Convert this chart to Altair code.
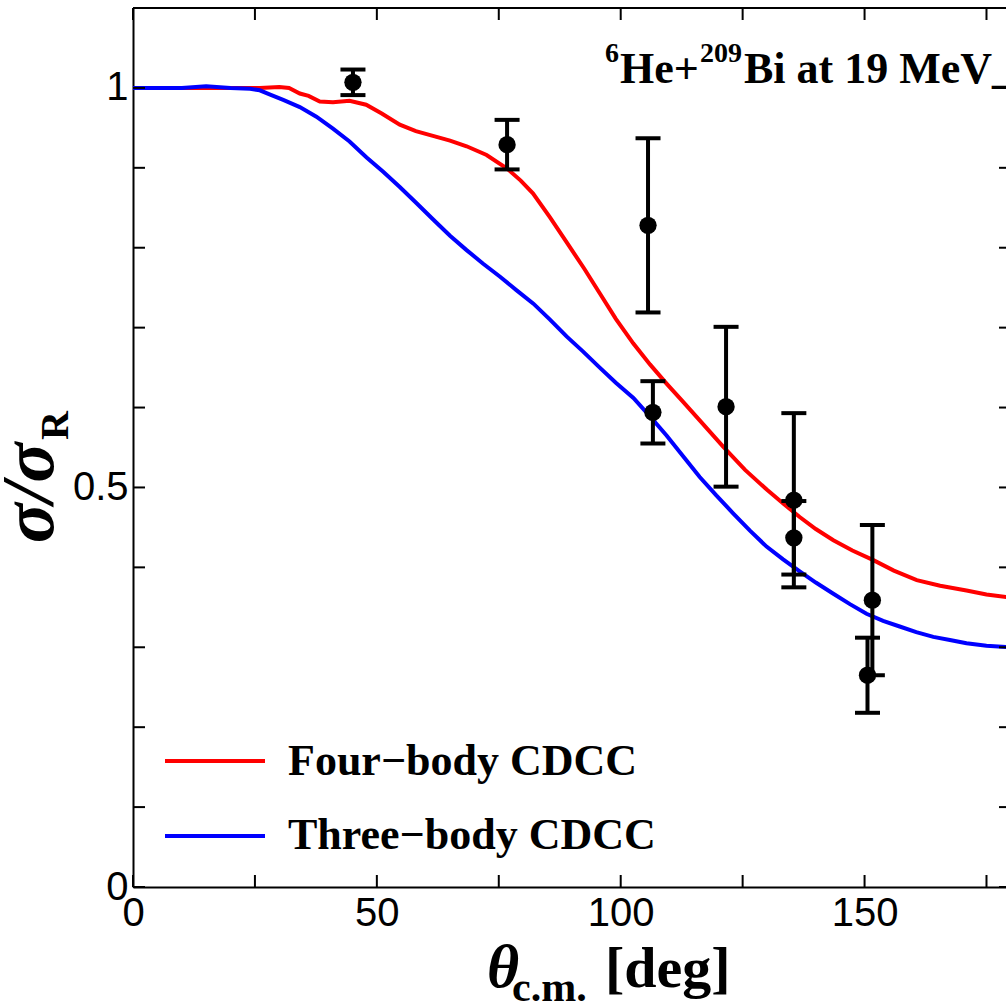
import altair as alt
import pandas as pd

# Four-body CDCC calculation (sigma / sigma_Rutherford vs c.m. angle)
four_theta = [0, 10, 20, 26, 30, 32, 34.2, 36, 38.3, 41, 44.4, 47.8, 51, 54.7, 58,
              61.5, 65, 68.4, 72.5, 76.7, 79.5, 82, 85.5, 89, 92.5, 95.7, 99, 102.6,
              106, 109.4, 112.8, 116.2, 121, 125.5, 130, 133.5, 136.7, 140, 143.6,
              147.5, 151.8, 156, 160.7, 165.5, 170.9, 175, 180]
four_ratio = [1.0, 1.0, 1.0, 1.0, 1.001, 1.0, 0.993, 0.99, 0.983, 0.982, 0.984, 0.979,
              0.968, 0.954, 0.946, 0.940, 0.934, 0.927, 0.916, 0.899, 0.884, 0.868,
              0.838, 0.806, 0.774, 0.743, 0.711, 0.680, 0.654, 0.630, 0.607, 0.584,
              0.551, 0.522, 0.497, 0.479, 0.463, 0.448, 0.434, 0.421, 0.409, 0.396,
              0.384, 0.377, 0.371, 0.366, 0.362]

# Three-body CDCC calculation
three_theta = [0, 10, 15, 20, 24, 26, 28, 30.8, 34.2, 37.6, 41, 44.4, 47.9, 51.3, 54.7,
               58.1, 61.6, 65, 68.4, 71.8, 75.2, 78.6, 82.1, 85.5, 88.9, 92.3, 95.7, 99,
               102.6, 106, 109.4, 112.8, 116.2, 119.6, 123, 126.5, 129.9, 133.3, 136.7,
               140, 143.6, 147, 150.4, 153.8, 157.2, 160.6, 164.1, 167.5, 170.9, 175, 180]
three_ratio = [1.0, 1.0, 1.002, 1.0, 0.999, 0.997, 0.992, 0.985, 0.976, 0.964, 0.949,
               0.933, 0.913, 0.895, 0.876, 0.856, 0.835, 0.815, 0.797, 0.780, 0.764,
               0.747, 0.730, 0.710, 0.689, 0.670, 0.650, 0.631, 0.612, 0.589, 0.565,
               0.539, 0.513, 0.490, 0.468, 0.446, 0.426, 0.410, 0.395, 0.381, 0.367,
               0.354, 0.342, 0.333, 0.326, 0.319, 0.313, 0.309, 0.305, 0.302, 0.300]

# Measured elastic data with uncertainties
exp_theta = [45.1, 76.7, 105.6, 106.6, 121.6, 135.5, 135.5, 151.6, 150.6]
exp_ratio = [1.007, 0.929, 0.828, 0.594, 0.601, 0.484, 0.437, 0.359, 0.265]
exp_err = [0.016, 0.031, 0.109, 0.039, 0.100, 0.109, 0.046, 0.094, 0.047]

x_tick_values = [0, 25, 50, 75, 100, 125, 150, 175]
x_label_values = [0, 50, 100, 150]
y_tick_values = [0, 0.1, 0.2, 0.3, 0.4, 0.5, 0.6, 0.7, 0.8, 0.9, 1.0]
y_label_values = [0, 0.5, 1]

model_names = ["Four\u2212body CDCC", "Three\u2212body CDCC"]
model_colors = ["#ff0000", "#0000ff"]

W, H = 873, 879
SERIF = "Liberation Serif"
SANS = "Liberation Sans"

x_scale = alt.Scale(domain=[0, 179], nice=False, zero=False)
y_scale = alt.Scale(domain=[0, 1.1], nice=False, zero=False)

curves = pd.concat([
    pd.DataFrame({"theta": four_theta, "ratio": four_ratio, "model": model_names[0]}),
    pd.DataFrame({"theta": three_theta, "ratio": three_ratio, "model": model_names[1]}),
])
points = pd.DataFrame({"theta": exp_theta, "ratio": exp_ratio, "err": exp_err})

lines = alt.Chart(curves).mark_line(strokeWidth=4, clip=True).encode(
    x=alt.X("theta:Q", scale=x_scale, title=None,
            axis=alt.Axis(values=x_label_values, tickSize=0, labelFont=SANS,
                          labelFontSize=40, labelColor="black", labelPadding=6,
                          labelFlush=False, labelOverlap=False,
                          domainColor="black", domainWidth=2, grid=False)),
    y=alt.Y("ratio:Q", scale=y_scale, title=None,
            axis=alt.Axis(values=y_label_values, format="~g", tickSize=0,
                          labelFont=SANS, labelFontSize=40, labelColor="black",
                          labelPadding=5, labelFlush=False, labelOverlap=False,
                          domainColor="black", domainWidth=2, grid=False)),
    color=alt.Color("model:N", scale=alt.Scale(domain=model_names, range=model_colors),
                    legend=None),
    order=alt.Order("theta:Q"),
)

bars_base = alt.Chart(points).transform_calculate(
    lo="datum.ratio - datum.err", hi="datum.ratio + datum.err"
)
err_rules = bars_base.mark_rule(strokeWidth=4, color="black").encode(
    x=alt.X("theta:Q", scale=x_scale), y=alt.Y("lo:Q", scale=y_scale), y2="hi:Q"
)
cap_mark = dict(shape="M-1,0L1,0", size=625, strokeWidth=4, filled=False,
                color="black", opacity=1)
caps_lo = bars_base.mark_point(**cap_mark).encode(
    x=alt.X("theta:Q", scale=x_scale), y=alt.Y("lo:Q", scale=y_scale)
)
caps_hi = bars_base.mark_point(**cap_mark).encode(
    x=alt.X("theta:Q", scale=x_scale), y=alt.Y("hi:Q", scale=y_scale)
)
dots = alt.Chart(points).mark_circle(size=300, color="black", opacity=1).encode(
    x=alt.X("theta:Q", scale=x_scale), y=alt.Y("ratio:Q", scale=y_scale)
)

# Inward-pointing ticks on all four sides of the frame
xt = pd.DataFrame({"t": x_tick_values})
yt = pd.DataFrame({"v": y_tick_values})
tick_style = dict(color="black", strokeWidth=2)
ticks_bottom = alt.Chart(xt).mark_rule(**tick_style).encode(
    x=alt.X("t:Q", scale=x_scale), y=alt.value(H), y2=alt.value(H - 12))
ticks_top = alt.Chart(xt).mark_rule(**tick_style).encode(
    x=alt.X("t:Q", scale=x_scale), y=alt.value(0), y2=alt.value(12))
ticks_left = alt.Chart(yt).mark_rule(**tick_style).encode(
    y=alt.Y("v:Q", scale=y_scale), x=alt.value(0), x2=alt.value(12))
ticks_right = alt.Chart(yt).mark_rule(**tick_style).encode(
    y=alt.Y("v:Q", scale=y_scale), x=alt.value(W - 7), x2=alt.value(W))
top_frame = alt.Chart(pd.DataFrame({"v": [0]})).mark_rule(**tick_style).encode(
    x=alt.value(0), x2=alt.value(W), y=alt.value(0))


def label(text, x, y, size, weight="bold", style="normal", font=SERIF,
          angle=0, align="left"):
    return alt.Chart(pd.DataFrame({"s": [text]})).mark_text(
        font=font, fontSize=size, fontWeight=weight, fontStyle=style,
        align=align, baseline="alphabetic", angle=angle, color="black"
    ).encode(x=alt.value(x), y=alt.value(y), text="s:N")


# Legend: coloured line samples with labels
legend_lines = [
    alt.Chart(pd.DataFrame({"m": [name]})).mark_rule(strokeWidth=4, color=col).encode(
        x=alt.value(32), x2=alt.value(132), y=alt.value(yy))
    for name, col, yy in zip(model_names, model_colors, [753, 828])
]
legend_text = [
    label(model_names[0], 155, 767, 44),
    label(model_names[1], 155, 841, 44),
]

# Reaction label with mass-number superscripts
reaction = [
    label("6", 472, 54, 28),
    label("He+", 487, 75, 44),
    label("209", 567, 54, 28),
    label("Bi at 19 MeV_", 611, 75, 44),
]

# Axis titles with subscripts
x_title = [
    label("\u03b8", 354, 979, 62, style="italic"),
    label("c.m.", 379, 993, 42),
    label("[deg]", 472, 979, 58),
]
y_title = [
    label("\u03c3/\u03c3", -80, 535, 74, style="italic", angle=270),
    label("R", -65, 432, 40, angle=270),
]

chart = alt.layer(
    lines, err_rules, caps_lo, caps_hi, dots,
    ticks_bottom, ticks_top, ticks_left, ticks_right, top_frame,
    *legend_lines, *legend_text, *reaction, *x_title, *y_title,
).properties(
    width=W, height=H,
    autosize=alt.AutoSizeParams(type="none"),
    padding={"left": 133, "top": 8, "right": 0, "bottom": 116},
).configure_view(stroke=None).configure(background="white")

chart.save("out.html", embed_options={"renderer": "svg", "actions": False})
